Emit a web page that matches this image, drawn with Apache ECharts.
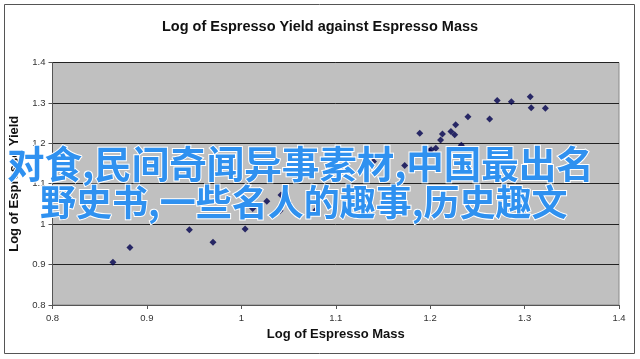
<!DOCTYPE html>
<html>
<head>
<meta charset="utf-8">
<script src="https://cdn.jsdelivr.net/npm/echarts@6/dist/echarts.min.js"></script>
<style>
html,body{margin:0;padding:0;background:#fff;}
#c{width:640px;height:359px;}
</style>
</head>
<body>
<div id="c"></div>
<script>
// Data
const massLog = [0.864, 0.882, 0.945, 0.970, 1.004, 1.012, 1.027, 1.042, 1.050, 1.041, 1.079,
  1.140, 1.173, 1.199, 1.201, 1.206, 1.211, 1.213, 1.189, 1.222, 1.226, 1.227, 1.233,
  1.240, 1.263, 1.271, 1.286, 1.306, 1.307, 1.322];
const yieldLog = [0.906, 0.942, 0.986, 0.955, 0.988, 1.039, 1.057, 1.072, 1.053, 1.033, 1.035,
  1.155, 1.145, 1.181, 1.184, 1.188, 1.208, 1.223, 1.225, 1.229, 1.221, 1.246, 1.195,
  1.266, 1.260, 1.306, 1.303, 1.315, 1.288, 1.287];
const axisMin = 0.8, axisMax = 1.4, axisStep = 0.1;
const titleText = 'Log of Espresso Yield against Espresso Mass';
const xName = 'Log of Espresso Mass';
const yName = 'Log of Espresso Yield';
const overlayLines = ['对食,民间奇闻异事素材,中国最出名', '野史书,一些名人的趣事,历史趣文'];

const points = massLog.map((x, i) => [x, yieldLog[i]]);
const fam = '"Liberation Sans", Arial, sans-serif';
const cjk = '"Noto Sans CJK SC", sans-serif';

const chart = echarts.init(document.getElementById('c'), null, {renderer: 'canvas'});
const axisCommon = {
  type: 'value', min: axisMin, max: axisMax, interval: axisStep,
  axisLine: {show: true, onZero: false, lineStyle: {color: '#555', width: 1}},
  axisTick: {show: true, inside: false, length: 4, lineStyle: {color: '#555'}},
  axisLabel: {color: '#333', fontSize: 9.5, fontFamily: fam,
    formatter: v => String(Math.round(v * 10) / 10)}
};
chart.setOption({
  backgroundColor: '#fff',
  animation: false,
  title: {
    text: titleText, left: 'center', top: 14,
    textStyle: {fontFamily: fam, fontWeight: 'bold', fontSize: 14.5, color: '#111'}
  },
  grid: {
    left: 52.5, right: 21, top: 62.5, bottom: 54,
    show: true, backgroundColor: '#C0C0C0', borderColor: '#8a8a8a', borderWidth: 1
  },
  xAxis: Object.assign({}, axisCommon, {
    name: xName, nameLocation: 'middle', nameGap: 22,
    nameTextStyle: {fontFamily: fam, fontWeight: 'bold', fontSize: 13, color: '#111'},
    splitLine: {show: false},
    axisLabel: Object.assign({}, axisCommon.axisLabel, {margin: 8})
  }),
  yAxis: Object.assign({}, axisCommon, {
    name: yName, nameLocation: 'middle', nameGap: 29, nameRotate: 90,
    nameTextStyle: {fontFamily: fam, fontWeight: 'bold', fontSize: 13, color: '#111'},
    splitLine: {show: true, lineStyle: {color: '#222', width: 1}},
    axisLabel: Object.assign({}, axisCommon.axisLabel, {margin: 7})
  }),
  series: [{
    type: 'scatter', data: points, symbol: 'diamond', symbolSize: 7,
    itemStyle: {color: '#00004d'}
  }],
  graphic: [
    {type: 'rect', silent: true, shape: {x: 4.5, y: 4.5, width: 630, height: 349},
     style: {fill: 'none', stroke: '#555', lineWidth: 1}, z: 0},
    {type: 'text', left: 6, top: 144, z: 100, silent: true,
     style: {text: overlayLines[0], font: 'bold 37.5px ' + cjk, fill: '#2F91F0',
       stroke: '#fff', lineWidth: 2}},
    {type: 'text', left: 39, top: 183, z: 100, silent: true,
     style: {text: overlayLines[1], font: 'bold 36px ' + cjk, fill: '#2F91F0',
       stroke: '#fff', lineWidth: 2}}
  ]
});
</script>
</body>
</html>
